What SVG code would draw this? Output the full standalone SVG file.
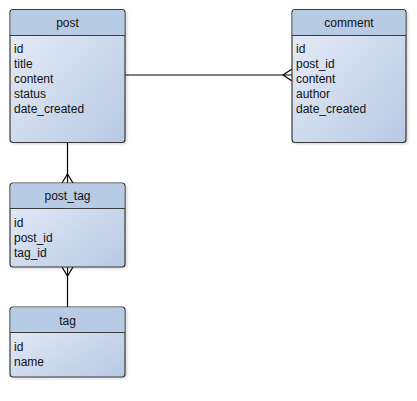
<svg xmlns="http://www.w3.org/2000/svg" width="417" height="401" viewBox="0 0 417 401">
  <style>
    .box { fill: url(#bodyFill); stroke: #3a3a3a; stroke-width: 1.2; }
    .head { fill: #b8cbe4; }
    .sep { stroke: #3a3a3a; stroke-width: 1; }
    .title { font-family: "Liberation Sans", Arial, sans-serif; font-size: 12px; fill: #111; text-anchor: middle; }
    .field { font-family: "Liberation Sans", Arial, sans-serif; font-size: 12px; fill: #111; }
    .link { stroke: #000; stroke-width: 1.2; fill: none; }
  </style>
  <defs>
    <linearGradient id="bodyFill" x1="0" y1="0" x2="1" y2="1">
      <stop offset="0" stop-color="#e9eef8"/>
      <stop offset="1" stop-color="#b6c9e4"/>
    </linearGradient>
    <filter id="shadow" x="-10%" y="-10%" width="130%" height="130%">
      <feGaussianBlur stdDeviation="1.5"/>
    </filter>
  </defs>
  <rect width="417" height="401" fill="#ffffff"/>

  <g id="connectors">
    <!-- post 1 : n comment -->
    <line class="link" x1="125" y1="75" x2="292" y2="75"/>
    <polyline class="link" points="292,69 283,75 292,81"/>
    <!-- post 1 : n post_tag -->
    <line class="link" x1="67.5" y1="142" x2="67.5" y2="183"/>
    <polyline class="link" points="62,183 67.5,174 73,183"/>
    <!-- tag 1 : n post_tag -->
    <line class="link" x1="67.5" y1="267" x2="67.5" y2="307"/>
    <polyline class="link" points="62,267 67.5,276 73,267"/>
  </g>

  <g id="post">
    <rect x="12" y="11" width="115" height="133" rx="3" fill="#000" opacity="0.18" filter="url(#shadow)"/>
    <rect class="box" x="10" y="9.5" width="115" height="133" rx="3"/>
    <path class="head" d="M10.6,35.5 V12.5 A3,3 0 0 1 13.6,10.1 H121.4 A3,3 0 0 1 124.4,12.5 V35.5 Z"/>
    <line class="sep" x1="10" y1="35.5" x2="125" y2="35.5"/>
    <text class="title" x="67.5" y="27">post</text>
    <text class="field" x="14" y="53">id</text>
    <text class="field" x="14" y="68">title</text>
    <text class="field" x="14" y="83">content</text>
    <text class="field" x="14" y="98">status</text>
    <text class="field" x="14" y="113">date_created</text>
  </g>

  <g id="comment">
    <rect x="294" y="11" width="114" height="133" rx="3" fill="#000" opacity="0.18" filter="url(#shadow)"/>
    <rect class="box" x="292" y="9.5" width="114" height="133" rx="3"/>
    <path class="head" d="M292.6,35.5 V12.5 A3,3 0 0 1 295.6,10.1 H402.4 A3,3 0 0 1 405.4,12.5 V35.5 Z"/>
    <line class="sep" x1="292" y1="35.5" x2="406" y2="35.5"/>
    <text class="title" x="349" y="27">comment</text>
    <text class="field" x="296" y="53">id</text>
    <text class="field" x="296" y="68">post_id</text>
    <text class="field" x="296" y="83">content</text>
    <text class="field" x="296" y="98">author</text>
    <text class="field" x="296" y="113">date_created</text>
  </g>

  <g id="post_tag">
    <rect x="12" y="184.5" width="115" height="84" rx="3" fill="#000" opacity="0.18" filter="url(#shadow)"/>
    <rect class="box" x="10" y="183" width="115" height="84" rx="3"/>
    <path class="head" d="M10.6,208.5 V186 A3,3 0 0 1 13.6,183.6 H121.4 A3,3 0 0 1 124.4,186 V208.5 Z"/>
    <line class="sep" x1="10" y1="208.5" x2="125" y2="208.5"/>
    <text class="title" x="67.5" y="200">post_tag</text>
    <text class="field" x="14" y="227">id</text>
    <text class="field" x="14" y="242">post_id</text>
    <text class="field" x="14" y="257">tag_id</text>
  </g>

  <g id="tag">
    <rect x="12" y="308.5" width="115" height="70" rx="3" fill="#000" opacity="0.18" filter="url(#shadow)"/>
    <rect class="box" x="10" y="307" width="115" height="70" rx="3"/>
    <path class="head" d="M10.6,332.5 V310 A3,3 0 0 1 13.6,307.6 H121.4 A3,3 0 0 1 124.4,310 V332.5 Z"/>
    <line class="sep" x1="10" y1="332.5" x2="125" y2="332.5"/>
    <text class="title" x="67.5" y="325">tag</text>
    <text class="field" x="14" y="351">id</text>
    <text class="field" x="14" y="366">name</text>
  </g>
</svg>
